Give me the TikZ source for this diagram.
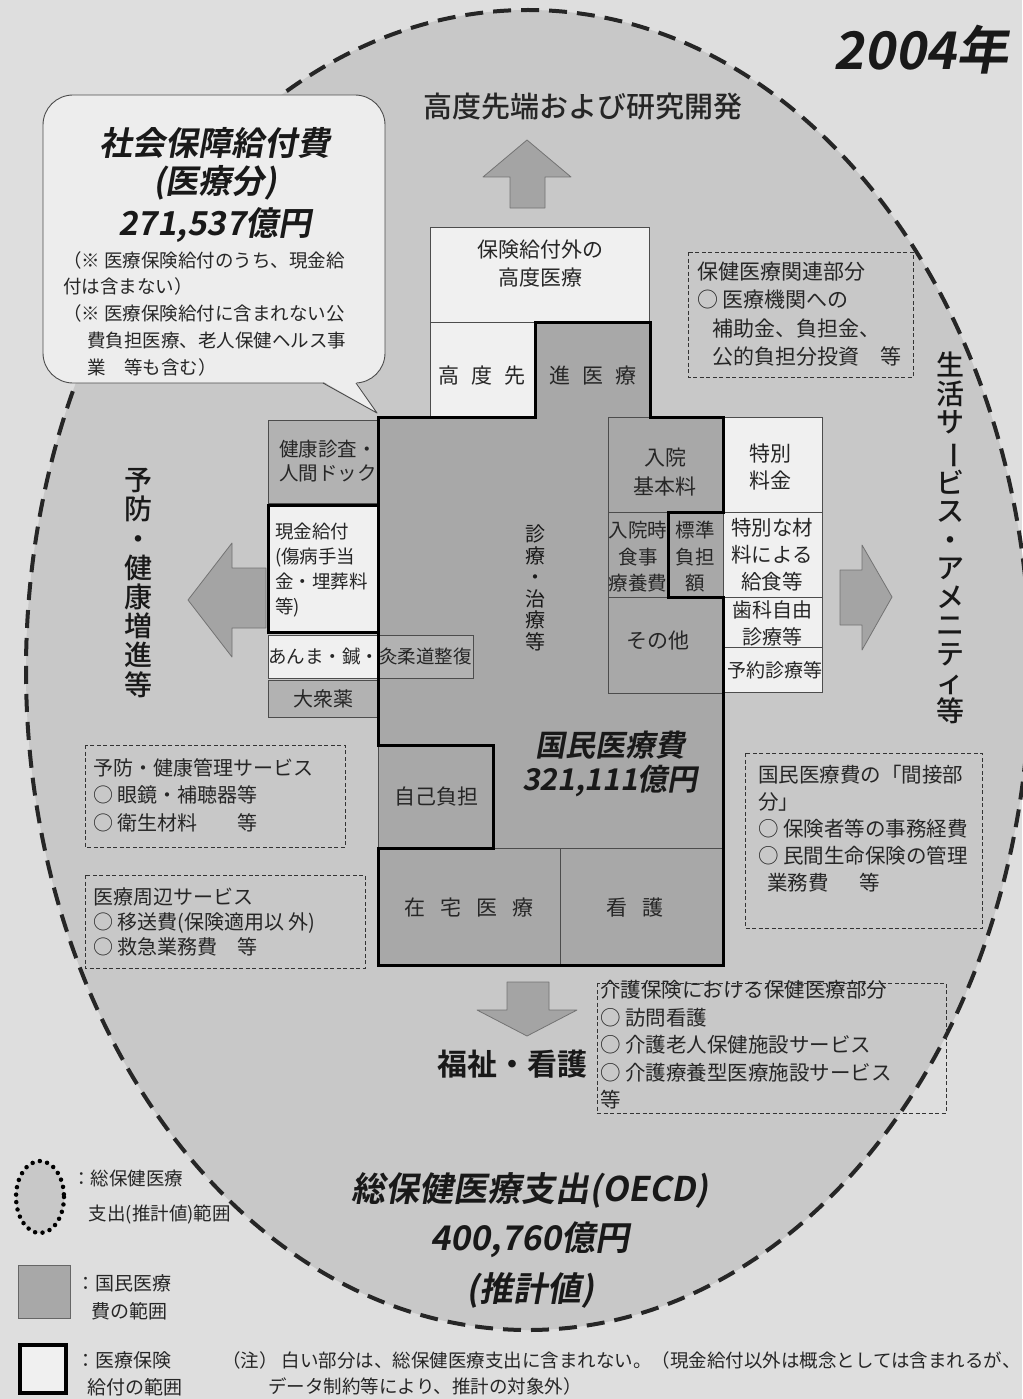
\documentclass[tikz,border=0pt]{standalone}
\usepackage{fontspec}
\setmainfont{Noto Sans CJK JP}[BoldFont={Noto Sans CJK JP Bold}]
\newfontfamily\headfont{Noto Sans CJK JP Bold}[FakeSlant=0.18]
\newfontfamily\medfont{Noto Sans CJK JP Medium}
\newcommand{\jsize}[2]{\fontsize{#1}{#2}\selectfont}
\newcommand{\vbar}{\rotatebox[origin=c]{-90}{ー}}

\definecolor{pagebg}{HTML}{DEDEDE}
\definecolor{ovalgray}{HTML}{C8C8C8}
\definecolor{natgray}{HTML}{A8A8A8}
\definecolor{midgray}{HTML}{B2B2B2}
\definecolor{boxwhite}{HTML}{F0F0F0}
\definecolor{calloutwhite}{HTML}{EDEDED}
\definecolor{arrowgray}{HTML}{A4A4A4}

\begin{document}
\begin{tikzpicture}[x=1pt,y=-1pt,
    natbox/.style={fill=natgray,draw=black!70,line width=0.7pt},
    oecdbox/.style={fill=midgray,draw=black!70,line width=0.7pt},
    outbox/.style={fill=boxwhite,draw=black!70,line width=0.7pt},
    benefit/.style={draw=black,line width=3pt,line join=miter},
    infobox/.style={draw=black!80,line width=0.9pt,dash pattern=on 4pt off 2.5pt},
    blockarrow/.style={fill=arrowgray,draw=black!55,line width=0.8pt,line join=round},
    lbl/.style={inner sep=0pt,text=black!85,font=\jsize{20}{25}},
    listtxt/.style={lbl,anchor=west,align=left},
    headtxt/.style={inner sep=0pt,text=black!90,font=\headfont\jsize{33}{40}},
    vtext/.style={inner sep=0pt,text=black!90,align=center},
  ]
  \useasboundingbox (0,0) rectangle (1022,1399);
  \fill[pagebg] (0,0) rectangle (1022,1399);

  % OECD total: the big dashed oval
  \fill[ovalgray] (528,670) ellipse[x radius=502,y radius=660];
  \draw[black!85,line width=4pt,dash pattern=on 18pt off 10pt]
    (528,670) ellipse[x radius=502,y radius=660];
  \node[headtxt,font=\headfont\jsize{52}{60}] (year) at (921,50) {2004年};

  % callout: social security benefits
  \draw[fill=calloutwhite,draw=black!70,line width=0.9pt,rounded corners=30pt]
    (43,95) rectangle (385,383);
  \fill[calloutwhite] (323,381.5) -- (377,413) -- (356,381.5) -- cycle;
  \draw[black!70,line width=0.9pt,line join=round] (323,383) -- (377,413) -- (356,383);
  \node[headtxt] (sbtitle) at (215,143) {社会保障給付費};
  \node[headtxt] (sbsub) at (215,183) {(医療分)};
  \node[headtxt] (sbsum) at (215,225) {271,537億円};
  \node[listtxt,font=\jsize{18.5}{26.75}] (sbnote) at (63,313.5)
    {（※ 医療保険給付のうち、現金給\\付は含まない）\\（※ 医療保険給付に含まれない公\\
     \hspace*{1.3em}費負担医療、老人保健ヘルス事\\\hspace*{1.3em}業　等も含む）};

  % upper row: advanced care
  \node[lbl,font=\medfont\jsize{29}{32}] (advtitle) at (583,107) {高度先端および研究開発};
  \draw[blockarrow] (510,208) -- (510,177) -- (483,177) -- (527,140)
    -- (571,177) -- (545,177) -- (545,208) -- cycle;
  \draw[outbox] (430,227) rectangle (649,322);
  \node[lbl,align=center,font=\jsize{21}{28}] (advout) at (540,264) {保険給付外の\\高度医療};
  \draw[outbox] (430,322) rectangle (535,417);
  \node[lbl,font=\jsize{21}{25}] (advleft) at (482,376) {高\hspace{12pt}度\hspace{12pt}先};
  \draw[natbox] (535,322) rectangle (650,417);
  \node[lbl,font=\jsize{21}{25}] (advright) at (593,376) {進\hspace{12pt}医\hspace{12pt}療};

  % central block: national medical expenditure
  \fill[natgray] (378,417) rectangle (723,965);
  \draw[natbox] (608,417) rectangle (723,512);
  \draw[natbox] (608,512) rectangle (668,597);
  \draw[natbox] (668,512) rectangle (723,597);
  \draw[natbox] (608,597) rectangle (723,693);
  \draw[natbox] (378,745) rectangle (493,848);
  \draw[natbox] (378,848) rectangle (560,965);
  \draw[natbox] (560,848) rectangle (723,965);
  \draw[black!70,line width=0.7pt] (493,848) -- (723,848);
  \node[lbl,align=center,font=\jsize{21}{29}] (inbase) at (665,472) {入院\\基本料};
  \node[lbl,align=center,font=\jsize{19.5}{26.5}] (inmeal) at (638,557) {入院時\\食事\\療養費};
  \node[lbl,align=center,font=\jsize{19.5}{26.5}] (stdpay) at (695,557) {標準\\負担\\額};
  \node[lbl,font=\jsize{21}{25}] (other) at (658,641) {その他};
  \node[vtext,font=\jsize{20}{21.5}] (treat) at (535,588) {診\\療\\・\\治\\療\\等};
  \node[headtxt,font=\headfont\jsize{30}{36}] (nattitle) at (610,745) {国民医療費};
  \node[headtxt,font=\headfont\jsize{30}{36}] (natsum) at (610,781) {321,111億円};
  \node[lbl,font=\jsize{21}{25}] (selfpay) at (436,797) {自己負担};
  \node[lbl,font=\jsize{21}{25}] (homecare) at (469,908) {在\hspace{15pt}宅\hspace{15pt}医\hspace{15pt}療};
  \node[lbl,font=\jsize{21}{25}] (nursing) at (635,908) {看\hspace{15pt}護};

  % left column
  \draw[oecdbox] (268,420) rectangle (378,503);
  \node[listtxt,font=\jsize{19.5}{24}] (checkup) at (279,461) {健康診査・\\人間ドック};
  \draw[outbox] (268,505) rectangle (378,632);
  \node[listtxt,font=\jsize{18.5}{25.3}] (cash) at (275,570) {現金給付\\(傷病手当\\金・埋葬料\\等)};
  \draw[outbox] (268,635) rectangle (378,678);
  \draw[oecdbox] (378,635) rectangle (473,678);
  \node[listtxt,font=\jsize{18.5}{25}] (massage) at (268,657) {あんま・鍼・灸柔道整復};
  \draw[oecdbox] (268,680) rectangle (378,717);
  \node[lbl,font=\jsize{20}{25}] (otc) at (323,699) {大衆薬};

  % right column
  \draw[outbox] (723,417) rectangle (822,512);
  \node[lbl,align=center,font=\jsize{21}{27}] (extrafee) at (770,467) {特別\\料金};
  \draw[outbox] (723,512) rectangle (822,597);
  \node[lbl,align=center,font=\jsize{20.5}{27}] (specmeal) at (772,555) {特別な材\\料による\\給食等};
  \draw[outbox] (723,597) rectangle (822,647);
  \node[lbl,align=center,font=\jsize{20}{27}] (dental) at (772,623) {歯科自由\\診療等};
  \draw[outbox] (723,647) rectangle (822,692);
  \node[lbl,font=\jsize{19}{25}] (booking) at (775,670) {予約診療等};

  % medical insurance benefit range
  \draw[benefit] (378,417) -- (535,417) -- (535,322) -- (650,322) -- (650,417)
    -- (723,417) -- (723,512) -- (668,512) -- (668,597) -- (723,597) -- (723,965)
    -- (378,965) -- (378,848) -- (493,848) -- (493,745) -- (378,745) -- cycle;
  \draw[benefit] (268,505) rectangle (378,632);

  % side arrows and their labels
  \draw[blockarrow] (266,568) -- (232,568) -- (232,543) -- (188,600)
    -- (232,657) -- (232,628) -- (266,628) -- cycle;
  \node[vtext,font=\medfont\jsize{28}{29.2}] (prevent) at (138,583) {予\\防\\・\\健\\康\\増\\進\\等};
  \draw[blockarrow] (840,570) -- (862,570) -- (862,545) -- (892,597)
    -- (862,650) -- (862,625) -- (840,625) -- cycle;
  \node[vtext,font=\medfont\jsize{28}{28.5}] (amenity) at (950,538)
    {生\\活\\サ\\\vbar\\ビ\\ス\\・\\ア\\メ\\ニ\\テ\\ィ\\等};
  \draw[blockarrow] (507,982) -- (549,982) -- (549,1010) -- (577,1010) -- (527,1036)
    -- (477,1010) -- (507,1010) -- cycle;
  \node[lbl,font=\bfseries\jsize{30}{34},text=black!90] (welfare) at (512,1064) {福祉・看護};

  % dashed side notes
  \draw[infobox] (688,252) rectangle (913,377);
  \node[listtxt,font=\jsize{21}{28.3}] (related) at (697,314)
    {保健医療関連部分\\○ 医療機関への\\\hspace*{0.75em}補助金、負担金、\\\hspace*{0.75em}公的負担分投資　等};
  \draw[infobox] (85,745) rectangle (345,847);
  \node[listtxt,font=\jsize{20}{27.5}] (prevsvc) at (93,795)
    {予防・健康管理サービス\\○ 眼鏡・補聴器等\\○ 衛生材料　　等};
  \draw[infobox] (85,875) rectangle (365,968);
  \node[listtxt,font=\jsize{20}{25}] (periph) at (93,922)
    {医療周辺サービス\\○ 移送費(保険適用以 外)\\○ 救急業務費　等};
  \draw[infobox] (745,753) rectangle (982,928);
  \node[listtxt,font=\jsize{20.5}{27}] (indirect) at (758,829)
    {国民医療費の「間接部\\分」\\○ 保険者等の事務経費\\○ 民間生命保険の管理\\\hspace*{0.45em}業務費\hspace{1.5em}等};
  \draw[infobox] (597,983) rectangle (946,1113);
  \node[listtxt,font=\jsize{20.5}{27.5}] (ltcare) at (600,1045)
    {介護保険における保健医療部分\\○ 訪問看護\\○ 介護老人保健施設サービス\\○ 介護療養型医療施設サービス\\等};

  % OECD total
  \node[headtxt,font=\headfont\jsize{34}{40}] (oecdtitle) at (530,1190) {総保健医療支出(OECD)};
  \node[headtxt,font=\headfont\jsize{34}{40}] (oecdsum) at (530,1240) {400,760億円};
  \node[headtxt,font=\headfont\jsize{34}{40}] (oecdnote) at (530,1290) {(推計値)};

  % legend
  \draw[fill=ovalgray,draw=black,line width=4.5pt,dash pattern=on 0pt off 7.5pt,line cap=round]
    (40,1197) ellipse[x radius=24,y radius=36];
  \node[listtxt,font=\jsize{18.5}{35}] (legoecd) at (72,1197) {：総保健医療\\\hspace*{0.9em}支出(推計値)範囲};
  \draw[fill=natgray,draw=black!60,line width=0.8pt] (18,1265) rectangle (70,1318);
  \node[listtxt,font=\jsize{19}{28}] (legnat) at (76,1297) {：国民医療\\\hspace*{0.8em}費の範囲};
  \draw[fill=boxwhite,draw=black,line width=4pt] (20,1345) rectangle (66,1393);
  \node[listtxt,font=\jsize{19}{27}] (legins) at (76,1374) {：医療保険\\\hspace*{0.6em}給付の範囲};
  \node[listtxt,font=\jsize{18.5}{26}] (footnote) at (222,1373)
    {（注） 白い部分は、総保健医療支出に含まれない。（現金給付以外は概念としては含まれるが、\\
     \hspace*{2.5em}データ制約等により、推計の対象外）};
\end{tikzpicture}
\end{document}
